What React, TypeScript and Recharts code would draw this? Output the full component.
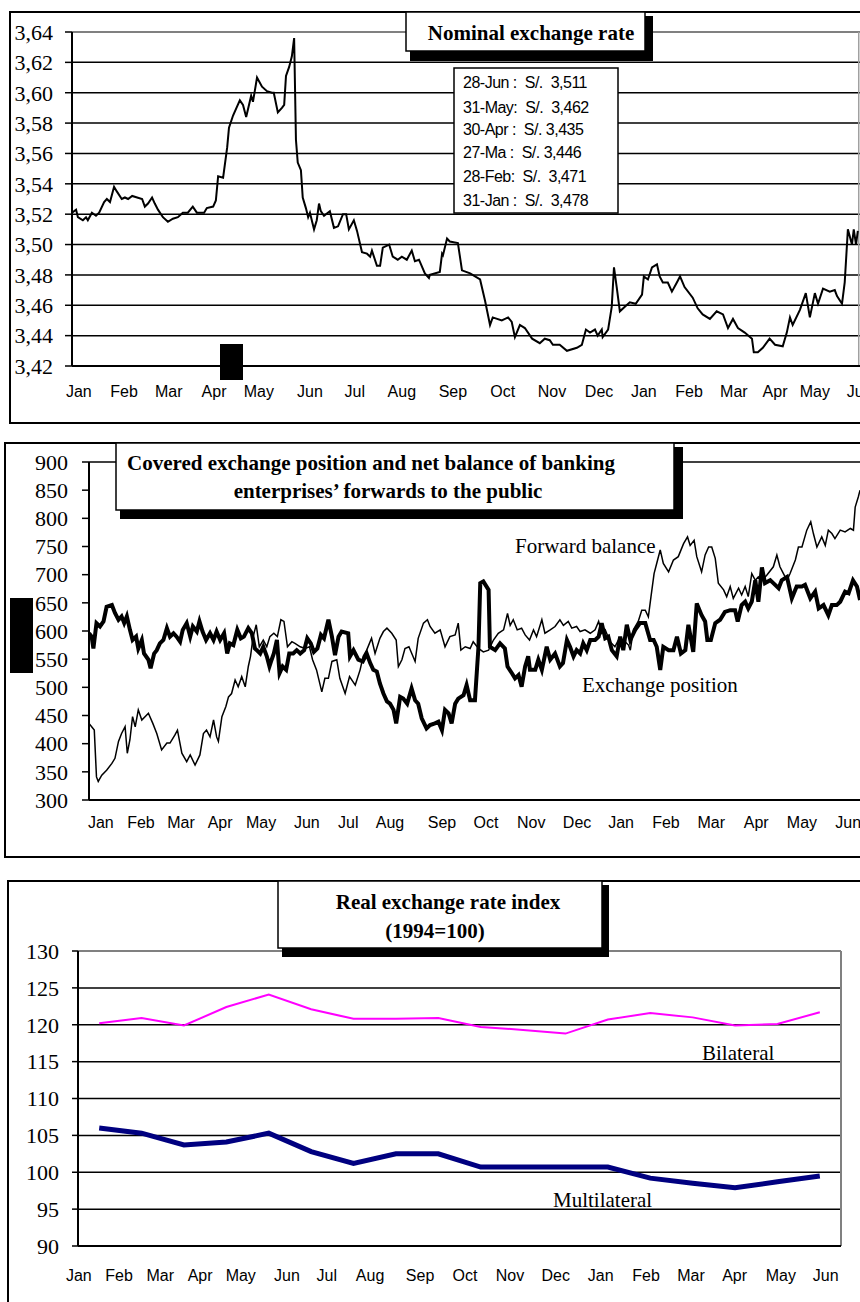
import { LineChart, Line, XAxis, YAxis, CartesianGrid, ReferenceLine } from "recharts";

const serif = "'Liberation Serif', 'Times New Roman', serif";
const sans = "'Liberation Sans', Arial, sans-serif";

// month labels shared by the three panels (Jan of year 1 through Jun of year 2)
const months = ["Jan", "Feb", "Mar", "Apr", "May", "Jun", "Jul", "Aug", "Sep", "Oct", "Nov", "Dec", "Jan", "Feb", "Mar", "Apr", "May", "Jun"];

// ---- Nominal exchange rate (S/. per US$), [months since 1 Jan, rate]
const nominalRate = [
  [0.0, 3.521], [0.09, 3.523], [0.13, 3.518], [0.24, 3.516], [0.31, 3.518], [0.35, 3.516], [0.44, 3.521], [0.53, 3.519],
  [0.6, 3.521], [0.71, 3.528], [0.77, 3.53], [0.84, 3.528], [0.93, 3.538], [0.99, 3.535], [1.1, 3.53], [1.17, 3.531],
  [1.24, 3.53], [1.33, 3.532], [1.44, 3.531], [1.55, 3.53], [1.61, 3.525], [1.68, 3.527], [1.77, 3.531], [1.83, 3.527],
  [1.9, 3.523], [2.01, 3.518], [2.12, 3.515], [2.23, 3.517], [2.34, 3.518], [2.45, 3.521], [2.56, 3.521], [2.67, 3.525],
  [2.76, 3.521], [2.92, 3.521], [2.98, 3.524], [3.12, 3.525], [3.18, 3.529], [3.23, 3.545], [3.34, 3.544], [3.43, 3.564],
  [3.47, 3.577], [3.56, 3.585], [3.65, 3.591], [3.71, 3.595], [3.78, 3.592], [3.85, 3.584], [3.96, 3.598], [4.0, 3.594],
  [4.09, 3.61], [4.2, 3.604], [4.31, 3.601], [4.42, 3.6], [4.46, 3.6], [4.55, 3.587], [4.64, 3.59], [4.69, 3.592],
  [4.73, 3.611], [4.8, 3.617], [4.86, 3.624], [4.91, 3.636], [4.95, 3.569], [4.99, 3.554], [5.06, 3.549], [5.1, 3.531],
  [5.17, 3.524], [5.22, 3.518], [5.26, 3.521], [5.35, 3.51], [5.41, 3.516], [5.46, 3.527], [5.5, 3.522], [5.57, 3.519],
  [5.7, 3.522], [5.79, 3.511], [5.88, 3.512], [5.99, 3.52], [6.06, 3.52], [6.12, 3.51], [6.23, 3.516], [6.3, 3.509],
  [6.41, 3.495], [6.52, 3.494], [6.59, 3.492], [6.63, 3.496], [6.74, 3.486], [6.81, 3.486], [6.87, 3.498], [7.01, 3.5],
  [7.09, 3.492], [7.2, 3.49], [7.29, 3.492], [7.4, 3.49], [7.51, 3.496], [7.58, 3.489], [7.67, 3.49], [7.8, 3.481],
  [7.89, 3.478], [7.91, 3.48], [8.13, 3.482], [8.18, 3.494], [8.2, 3.493], [8.29, 3.504], [8.35, 3.502], [8.53, 3.501],
  [8.62, 3.483], [8.8, 3.481], [9.02, 3.477], [9.13, 3.463], [9.24, 3.447], [9.3, 3.452], [9.5, 3.45], [9.64, 3.452],
  [9.72, 3.449], [9.79, 3.439], [9.9, 3.447], [10.01, 3.445], [10.17, 3.438], [10.34, 3.435], [10.45, 3.438], [10.56, 3.437],
  [10.63, 3.434], [10.78, 3.434], [10.94, 3.43], [11.16, 3.432], [11.27, 3.434], [11.36, 3.444], [11.45, 3.442], [11.56, 3.444],
  [11.62, 3.44], [11.71, 3.444], [11.73, 3.439], [11.85, 3.444], [11.93, 3.459], [11.98, 3.485], [12.04, 3.472], [12.11, 3.456],
  [12.22, 3.459], [12.33, 3.462], [12.46, 3.461], [12.6, 3.467], [12.64, 3.479], [12.73, 3.477], [12.82, 3.485], [12.93, 3.487],
  [12.99, 3.479], [13.06, 3.475], [13.17, 3.475], [13.26, 3.469], [13.37, 3.475], [13.44, 3.479], [13.54, 3.472], [13.72, 3.465],
  [13.83, 3.458], [13.94, 3.454], [14.1, 3.451], [14.25, 3.456], [14.39, 3.454], [14.5, 3.445], [14.61, 3.451], [14.72, 3.445],
  [14.87, 3.442], [15.03, 3.438], [15.07, 3.429], [15.16, 3.429], [15.27, 3.432], [15.42, 3.438], [15.54, 3.434], [15.71, 3.433],
  [15.8, 3.442], [15.87, 3.452], [15.93, 3.447], [16.09, 3.457], [16.22, 3.468], [16.31, 3.452], [16.42, 3.468], [16.49, 3.461],
  [16.6, 3.471], [16.75, 3.469], [16.86, 3.47], [16.91, 3.466], [17.02, 3.461], [17.08, 3.475], [17.15, 3.51], [17.24, 3.5],
  [17.28, 3.51], [17.33, 3.5], [17.37, 3.509],
];
const nominalMonthTicks = [0.15, 1.15, 2.14, 3.14, 4.13, 5.26, 6.25, 7.29, 8.42, 9.52, 10.61, 11.65, 12.64, 13.64, 14.63, 15.54, 16.42, 17.41];
const nominalTicks = [3.42, 3.44, 3.46, 3.48, 3.5, 3.52, 3.54, 3.56, 3.58, 3.6, 3.62, 3.64];
const closingRates = [
  "28-Jun :  S/.  3,511",
  "31-May:  S/.  3,462",
  "30-Apr :  S/. 3,435",
  "27-Ma :  S/. 3,446",
  "28-Feb:  S/.  3,471",
  "31-Jan :  S/.  3,478",
];

// ---- Covered exchange position (thick) and forward balance (thin), US$ millions
const exchangePosition = [
  [0.0, 596], [0.06, 590], [0.1, 569], [0.17, 614], [0.25, 608], [0.33, 617], [0.4, 643], [0.52, 646], [0.59, 632], [0.67, 620],
  [0.74, 626], [0.8, 614], [0.86, 626], [0.93, 602], [0.99, 584], [1.07, 590], [1.12, 569], [1.2, 584], [1.25, 560], [1.35, 549],
  [1.4, 534], [1.48, 560], [1.54, 566], [1.61, 578], [1.69, 584], [1.77, 605], [1.84, 590], [1.92, 596], [1.99, 590], [2.07, 581],
  [2.13, 602], [2.22, 614], [2.3, 590], [2.36, 608], [2.45, 599], [2.51, 617], [2.58, 599], [2.66, 584], [2.75, 596], [2.83, 584],
  [2.9, 599], [2.98, 584], [3.07, 596], [3.14, 560], [3.2, 578], [3.28, 575], [3.37, 602], [3.45, 587], [3.52, 590], [3.62, 605],
  [3.7, 596], [3.77, 569], [3.89, 560], [3.96, 572], [4.04, 555], [4.1, 537], [4.15, 549], [4.2, 560], [4.27, 584], [4.33, 525],
  [4.4, 537], [4.48, 531], [4.55, 560], [4.64, 560], [4.72, 566], [4.8, 560], [4.89, 566], [4.96, 587], [5.04, 578], [5.11, 563],
  [5.19, 569], [5.27, 593], [5.34, 587], [5.44, 620], [5.52, 590], [5.59, 557], [5.67, 590], [5.74, 599], [5.89, 596], [5.93, 555],
  [6.01, 566], [6.12, 549], [6.22, 546], [6.31, 560], [6.39, 543], [6.46, 531], [6.54, 528], [6.61, 507], [6.69, 489], [6.77, 475],
  [6.84, 471], [6.92, 460], [6.98, 436], [7.07, 483], [7.14, 480], [7.23, 471], [7.33, 498], [7.41, 477], [7.48, 471], [7.56, 445],
  [7.67, 427], [7.75, 433], [7.86, 436], [7.94, 439], [8.02, 424], [8.09, 460], [8.17, 454], [8.24, 436], [8.32, 471], [8.39, 480],
  [8.51, 486], [8.58, 504], [8.66, 477], [8.77, 477], [8.85, 572], [8.89, 685], [8.96, 688], [9.08, 673], [9.11, 572], [9.23, 566],
  [9.34, 578], [9.45, 569], [9.51, 537], [9.61, 525], [9.68, 516], [9.76, 522], [9.83, 501], [9.91, 537], [9.98, 555], [10.02, 531],
  [10.14, 531], [10.21, 549], [10.29, 531], [10.4, 572], [10.48, 549], [10.59, 560], [10.7, 537], [10.77, 543], [10.86, 584], [10.93, 572],
  [11.01, 555], [11.08, 566], [11.16, 560], [11.23, 578], [11.31, 566], [11.39, 584], [11.5, 584], [11.58, 590], [11.65, 614], [11.73, 587],
  [11.8, 590], [11.88, 566], [11.99, 555], [12.07, 590], [12.14, 566], [12.22, 611], [12.3, 584], [12.41, 602], [12.52, 614], [12.64, 614],
  [12.75, 584], [12.83, 584], [12.9, 572], [12.98, 531], [13.05, 572], [13.17, 566], [13.28, 566], [13.36, 590], [13.45, 560], [13.55, 566],
  [13.62, 611], [13.73, 563], [13.81, 649], [13.92, 628], [14.0, 617], [14.05, 584], [14.13, 584], [14.23, 614], [14.34, 620], [14.45, 634],
  [14.57, 637], [14.68, 637], [14.74, 617], [14.83, 646], [14.91, 652], [14.98, 640], [15.06, 652], [15.14, 690], [15.21, 652], [15.29, 713],
  [15.36, 685], [15.48, 690], [15.55, 685], [15.67, 676], [15.74, 690], [15.86, 696], [15.97, 658], [16.08, 679], [16.2, 679], [16.27, 682],
  [16.39, 658], [16.5, 670], [16.58, 640], [16.69, 646], [16.8, 628], [16.88, 646], [16.99, 646], [17.07, 652], [17.18, 670], [17.26, 667],
  [17.36, 690], [17.45, 679], [17.52, 655],
];
const forwardBalance = [
  [0.0, 436], [0.06, 430], [0.12, 424], [0.17, 341], [0.21, 333], [0.29, 344], [0.4, 353], [0.52, 365], [0.59, 374], [0.67, 404],
  [0.74, 418], [0.82, 430], [0.87, 383], [0.93, 407], [0.99, 448], [1.05, 430], [1.12, 460], [1.2, 442], [1.35, 454], [1.45, 436],
  [1.54, 418], [1.65, 389], [1.77, 401], [1.84, 401], [1.95, 415], [2.01, 424], [2.11, 383], [2.22, 368], [2.3, 380], [2.41, 362],
  [2.52, 380], [2.6, 418], [2.67, 424], [2.75, 412], [2.83, 442], [2.9, 412], [2.94, 404], [3.02, 448], [3.11, 466], [3.17, 483],
  [3.24, 489], [3.32, 513], [3.39, 501], [3.47, 519], [3.55, 501], [3.62, 537], [3.67, 555], [3.73, 590], [3.8, 611], [3.87, 572],
  [3.96, 584], [4.04, 572], [4.11, 590], [4.2, 596], [4.28, 590], [4.36, 620], [4.43, 617], [4.51, 572], [4.61, 581], [4.68, 578],
  [4.8, 572], [4.91, 569], [5.01, 572], [5.08, 549], [5.17, 531], [5.29, 492], [5.36, 516], [5.44, 516], [5.52, 546], [5.63, 549],
  [5.7, 516], [5.82, 489], [5.92, 519], [6.05, 504], [6.16, 531], [6.23, 555], [6.31, 566], [6.42, 587], [6.5, 560], [6.61, 587],
  [6.69, 599], [6.77, 605], [6.88, 596], [6.98, 584], [7.03, 537], [7.11, 549], [7.18, 569], [7.27, 572], [7.41, 546], [7.48, 587],
  [7.6, 614], [7.69, 620], [7.75, 608], [7.86, 596], [7.98, 602], [8.09, 572], [8.2, 590], [8.32, 593], [8.39, 614], [8.45, 566],
  [8.55, 572], [8.66, 569], [8.73, 581], [8.85, 569], [8.96, 563], [9.08, 566], [9.19, 584], [9.3, 596], [9.42, 602], [9.51, 631],
  [9.57, 610], [9.64, 620], [9.73, 602], [9.83, 605], [9.91, 593], [10.01, 584], [10.1, 602], [10.17, 590], [10.29, 620], [10.36, 596],
  [10.48, 602], [10.59, 608], [10.7, 620], [10.78, 610], [10.89, 617], [10.97, 605], [11.08, 608], [11.16, 599], [11.27, 602], [11.39, 596],
  [11.5, 602], [11.58, 617], [11.65, 596], [11.73, 602], [11.84, 581], [11.95, 572], [12.03, 584], [12.14, 584], [12.26, 575], [12.3, 566],
  [12.37, 602], [12.48, 617], [12.56, 637], [12.64, 637], [12.71, 625], [12.77, 661], [12.84, 702], [12.92, 726], [12.98, 744], [13.05, 720],
  [13.17, 705], [13.28, 726], [13.39, 732], [13.51, 755], [13.6, 767], [13.66, 752], [13.75, 761], [13.81, 732], [13.92, 705], [14.0, 735],
  [14.08, 749], [14.15, 749], [14.23, 729], [14.3, 685], [14.42, 673], [14.49, 661], [14.57, 679], [14.64, 658], [14.76, 676], [14.83, 664],
  [14.91, 679], [14.98, 661], [15.06, 702], [15.14, 690], [15.21, 696], [15.29, 690], [15.4, 699], [15.55, 714], [15.63, 735], [15.7, 714],
  [15.78, 702], [15.86, 690], [15.93, 702], [16.05, 726], [16.12, 749], [16.2, 749], [16.31, 779], [16.4, 794], [16.46, 773], [16.54, 749],
  [16.65, 767], [16.73, 752], [16.8, 779], [16.88, 773], [16.95, 764], [17.07, 779], [17.18, 776], [17.3, 782], [17.37, 779], [17.41, 820],
  [17.48, 838], [17.52, 850],
];
const positionMonthTicks = [0.27, 1.18, 2.09, 2.98, 3.91, 4.95, 5.89, 6.84, 8.02, 9.02, 10.05, 11.09, 12.09, 13.11, 14.14, 15.16, 16.2, 17.25];
const positionTicks = [300, 350, 400, 450, 500, 550, 600, 650, 700, 750, 800, 850, 900];

// ---- Real exchange rate index (1994=100), monthly
const bilateral = [120.2, 120.9, 119.9, 122.4, 124.1, 122.1, 120.8, 120.8, 120.9, 119.7, 119.3, 118.8, 120.7, 121.6, 121.0, 119.9, 120.1, 121.7];
const multilateral = [106.0, 105.3, 103.7, 104.1, 105.3, 102.8, 101.2, 102.5, 102.5, 100.7, 100.7, 100.7, 100.7, 99.2, 98.5, 97.9, 98.7, 99.5];
const realMonthTicks = [0.02, 0.97, 1.94, 2.88, 3.84, 4.93, 5.87, 6.89, 8.07, 9.13, 10.19, 11.27, 12.33, 13.4, 14.46, 15.49, 16.58, 17.64];
const realTicks = [90, 95, 100, 105, 110, 115, 120, 125, 130];

const pts = (rows: number[][]) => rows.map(([m, v]) => ({ m, v }));
const monthly = (vals: number[]) => vals.map((v, i) => ({ m: i + 0.5, v }));

const yTick = { fontFamily: serif, fontSize: 22, fill: "#000" };
const xTick = { fontFamily: sans, fontSize: 16, fill: "#000" };
const monthLabel = (_: number, i: number) => months[i];
const comma = (v: number) => v.toFixed(2).replace(".", ",");

function TitleBox({ x, y, w, h, sr, sb, lines }: { x: number; y: number; w: number; h: number; sr: number; sb: number; lines: [string, number, number][] }) {
  return (
    <g>
      <rect x={x + 4} y={y + 4} width={w + sr - 4} height={h + sb - 4} fill="#000" />
      <rect x={x} y={y} width={w} height={h} fill="#fff" stroke="#000" strokeWidth={1.5} />
      {lines.map(([t, cx, by]) => (
        <text key={t} x={cx} y={by} textAnchor="middle" fontFamily={serif} fontWeight="bold" fontSize={21}>
          {t}
        </text>
      ))}
    </g>
  );
}

export default function App() {
  return (
    <div style={{ position: "fixed", left: 0, top: 0, width: 860, height: 1302, overflow: "hidden", background: "#fff" }}>
      {/* Nominal exchange rate */}
      <div style={{ position: "absolute", left: 0, top: 0 }}>
        <LineChart width={900} height={420} margin={{ top: 32, right: 20, bottom: 24, left: 0 }}>
          <CartesianGrid vertical={false} stroke="#000" strokeWidth={1.5} />
          <XAxis type="number" dataKey="m" domain={[0, 17.86]} allowDataOverflow ticks={nominalMonthTicks} interval={0}
            tickFormatter={monthLabel} tick={xTick} tickLine={false} tickSize={0} tickMargin={20} height={30}
            axisLine={{ stroke: "#000", strokeWidth: 2 }} />
          <YAxis type="number" domain={[3.42, 3.64]} allowDataOverflow ticks={nominalTicks} interval={0} tickFormatter={comma}
            tick={yTick} width={72} tickSize={7} tickMargin={12} tickLine={{ stroke: "#000", strokeWidth: 1.5 }}
            axisLine={{ stroke: "#000", strokeWidth: 2 }} />
          <ReferenceLine y={3.64} stroke="#808080" strokeWidth={2} />
          <ReferenceLine x={17.39} stroke="#a0a0a0" strokeWidth={1.5} />
          <Line data={pts(nominalRate)} dataKey="v" type="linear" stroke="#000" strokeWidth={2} dot={false} isAnimationActive={false} />
        </LineChart>
      </div>

      {/* Covered exchange position and forward balance */}
      <div style={{ position: "absolute", left: 0, top: 440 }}>
        <LineChart width={900} height={420} margin={{ top: 22, right: 25, bottom: 30, left: 0 }}>
          <XAxis type="number" dataKey="m" domain={[0, 17.86]} allowDataOverflow ticks={positionMonthTicks} interval={0}
            tickFormatter={monthLabel} tick={xTick} tickLine={false} tickSize={0} tickMargin={17} height={30}
            axisLine={{ stroke: "#000", strokeWidth: 2 }} />
          <YAxis type="number" domain={[300, 900]} allowDataOverflow ticks={positionTicks} interval={0}
            tick={yTick} width={89} tickSize={7} tickMargin={14} tickLine={{ stroke: "#000", strokeWidth: 1.5 }}
            axisLine={{ stroke: "#000", strokeWidth: 2 }} />
          <ReferenceLine y={900} stroke="#000" strokeWidth={1.5} />
          <Line data={pts(forwardBalance)} dataKey="v" type="linear" stroke="#000" strokeWidth={1.5} dot={false} isAnimationActive={false} />
          <Line data={pts(exchangePosition)} dataKey="v" type="linear" stroke="#000" strokeWidth={4} dot={false} isAnimationActive={false} />
        </LineChart>
      </div>

      {/* Real exchange rate index */}
      <div style={{ position: "absolute", left: 0, top: 870 }}>
        <LineChart width={860} height={432} margin={{ top: 81, right: 19, bottom: 26, left: 0 }}>
          <CartesianGrid vertical={false} stroke="#000" strokeWidth={1.5} />
          <XAxis type="number" dataKey="m" domain={[0, 18]} allowDataOverflow ticks={realMonthTicks} interval={0}
            tickFormatter={monthLabel} tick={xTick} tickLine={false} tickSize={0} tickMargin={24} height={30}
            axisLine={{ stroke: "#000", strokeWidth: 2 }} />
          <YAxis type="number" domain={[90, 130]} allowDataOverflow ticks={realTicks} interval={0}
            tick={yTick} width={78} tickSize={6} tickMargin={13} tickLine={{ stroke: "#000", strokeWidth: 1.5 }}
            axisLine={{ stroke: "#000", strokeWidth: 2 }} />
          <ReferenceLine y={130} stroke="#808080" strokeWidth={2} />
          <ReferenceLine x={18} stroke="#808080" strokeWidth={2} />
          <Line data={monthly(bilateral)} dataKey="v" type="linear" stroke="#ff00ff" strokeWidth={2} dot={false} isAnimationActive={false} />
          <Line data={monthly(multilateral)} dataKey="v" type="linear" stroke="#000080" strokeWidth={5} dot={false} isAnimationActive={false} />
        </LineChart>
      </div>

      {/* frames, titles and annotations */}
      <svg width={860} height={1302} style={{ position: "absolute", left: 0, top: 0 }}>
        <rect x={10} y={12} width={900} height={411} fill="none" stroke="#000" strokeWidth={2} />
        <rect x={5} y={443} width={900} height={414} fill="none" stroke="#000" strokeWidth={2} />
        <rect x={8} y={881} width={900} height={500} fill="none" stroke="#000" strokeWidth={2} />

        <TitleBox x={406} y={12} w={239} h={39} sr={8} sb={10} lines={[["Nominal exchange rate", 531, 40]]} />
        <TitleBox x={116} y={443} w={558} h={67} sr={9} sb={9}
          lines={[["Covered exchange position and net balance of banking", 371, 470], ["enterprises\u2019 forwards to the public", 388, 498]]} />
        <TitleBox x={278} y={881} w={324} h={67} sr={7} sb={9}
          lines={[["Real exchange rate index", 448, 909], ["(1994=100)", 435, 938]]} />

        <rect x={454} y={68} width={164} height={145} fill="#fff" stroke="#000" strokeWidth={1.5} />
        {closingRates.map((t, i) => (
          <text key={t} x={463} y={[88, 113, 135, 158, 182, 206][i]} fontFamily={sans} fontSize={16} letterSpacing={-0.5}
            style={{ whiteSpace: "pre" }}>
            {t}
          </text>
        ))}

        <rect x={220} y={344} width={23} height={36} fill="#000" />
        <rect x={10} y={598} width={23} height={75} fill="#000" />

        <text x={515} y={553} fontFamily={serif} fontSize={21}>Forward balance</text>
        <text x={582} y={692} fontFamily={serif} fontSize={21}>Exchange position</text>
        <text x={702} y={1060} fontFamily={serif} fontSize={21}>Bilateral</text>
        <text x={553} y={1207} fontFamily={serif} fontSize={21}>Multilateral</text>
      </svg>
    </div>
  );
}
